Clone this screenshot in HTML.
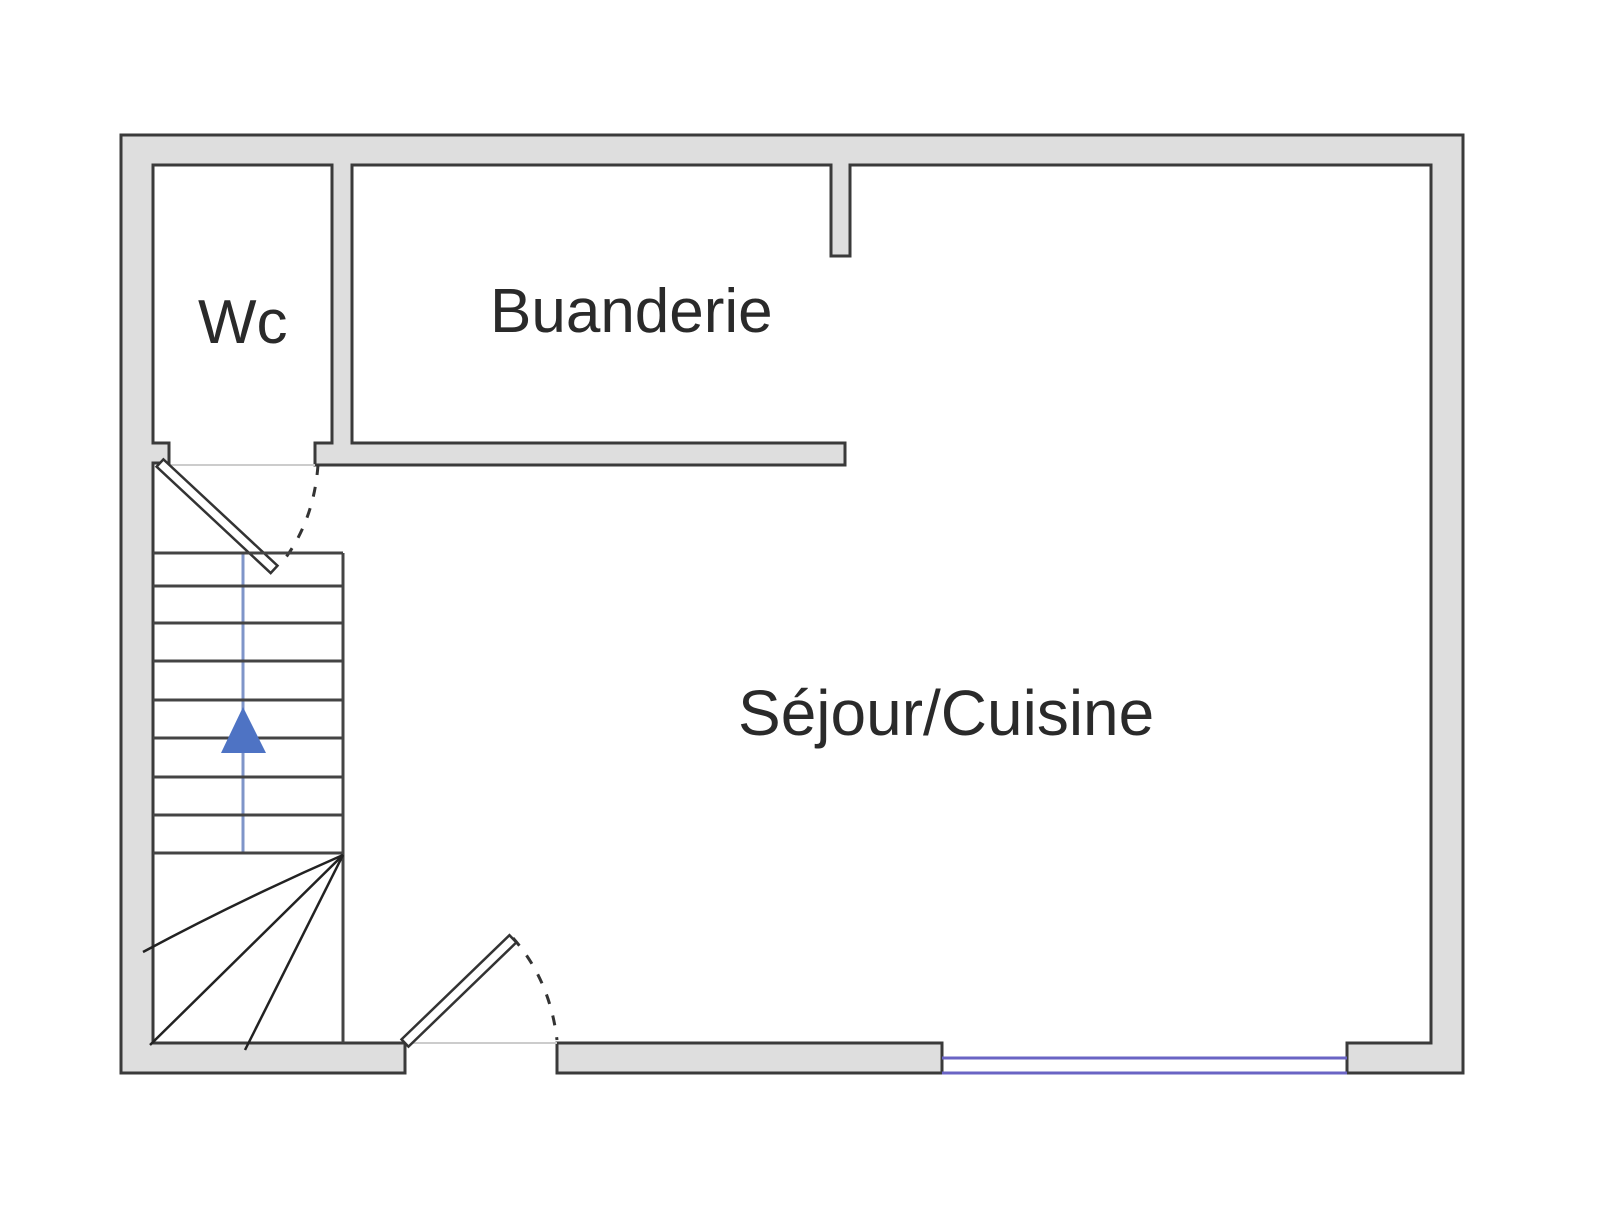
<!DOCTYPE html>
<html><head><meta charset="utf-8"><style>
html,body{margin:0;padding:0;background:#fff;}
svg{display:block;}
text{font-family:"Liberation Sans",sans-serif;fill:#2a2a2a;}
</style></head><body>
<svg width="1600" height="1211" viewBox="0 0 1600 1211" xmlns="http://www.w3.org/2000/svg">
<rect width="1600" height="1211" fill="#fff"/>
<path d="M121,135 H1463 V1073 H1347 V1043 H1431 V165 H153 V1043 H405 V1073 H121 Z" fill="#dedede" stroke="#3a3a3a" stroke-width="3"/>
<rect x="557" y="1043" width="385" height="30" fill="#dedede" stroke="#3a3a3a" stroke-width="3"/>
<line x1="942" y1="1058" x2="1347" y2="1058" stroke="#6a64c4" stroke-width="3"/>
<line x1="942" y1="1073" x2="1347" y2="1073" stroke="#6a64c4" stroke-width="3"/>
<path d="M831,165 V256 H850 V165" fill="#dedede" stroke="#3a3a3a" stroke-width="3"/>
<rect x="832.5" y="160" width="16" height="8" fill="#dedede"/>
<path d="M332,165 V443 H315 V465 H845 V443 H352 V165" fill="#dedede" stroke="#3a3a3a" stroke-width="3"/>
<rect x="333.5" y="160" width="17" height="8" fill="#dedede"/>
<path d="M153,443 H169 V463 H153" fill="#dedede" stroke="#3a3a3a" stroke-width="3"/>
<rect x="148" y="444.5" width="7" height="17" fill="#dedede"/>
<line x1="169" y1="465" x2="315" y2="465" stroke="#ccc" stroke-width="2"/>
<line x1="405" y1="1043" x2="557" y2="1043" stroke="#ccc" stroke-width="2"/>
<g transform="translate(160,463) rotate(43)">
<rect x="0" y="-5" width="156" height="10" fill="#fff" stroke="#333" stroke-width="2.5"/>
</g>
<path d="M318,465 Q314,520 284,560" fill="none" stroke="#333" stroke-width="3" stroke-dasharray="10,12"/>
<g transform="translate(405,1043) rotate(-44)">
<rect x="0" y="-5" width="150" height="10" fill="#fff" stroke="#333" stroke-width="2.5"/>
</g>
<path d="M513,938 Q550,980 557,1040" fill="none" stroke="#333" stroke-width="3" stroke-dasharray="10,12"/>
<line x1="243" y1="553" x2="243" y2="853" stroke="#7f95c9" stroke-width="3"/>
<g stroke="#444" stroke-width="3">
<line x1="153" y1="553" x2="343" y2="553"/>
<line x1="343" y1="553" x2="343" y2="1043"/>
<line x1="153" y1="586" x2="343" y2="586"/>
<line x1="153" y1="623" x2="343" y2="623"/>
<line x1="153" y1="661" x2="343" y2="661"/>
<line x1="153" y1="700" x2="343" y2="700"/>
<line x1="153" y1="738" x2="343" y2="738"/>
<line x1="153" y1="777" x2="343" y2="777"/>
<line x1="153" y1="815" x2="343" y2="815"/>
<line x1="153" y1="853" x2="343" y2="853"/>
</g>
<polygon points="243,707 221,753 266,753" fill="#4e73c4"/>
<g stroke="#222" stroke-width="2.5" fill="none">
<path d="M343,855 Q240,900 143,952"/>
<line x1="343" y1="855" x2="150" y2="1045"/>
<line x1="343" y1="855" x2="245" y2="1050"/>
</g>
<text x="198" y="343" font-size="62">Wc</text>
<text x="490" y="332" font-size="62">Buanderie</text>
<text x="738" y="735" font-size="64">Séjour/Cuisine</text>
</svg>
</body></html>
